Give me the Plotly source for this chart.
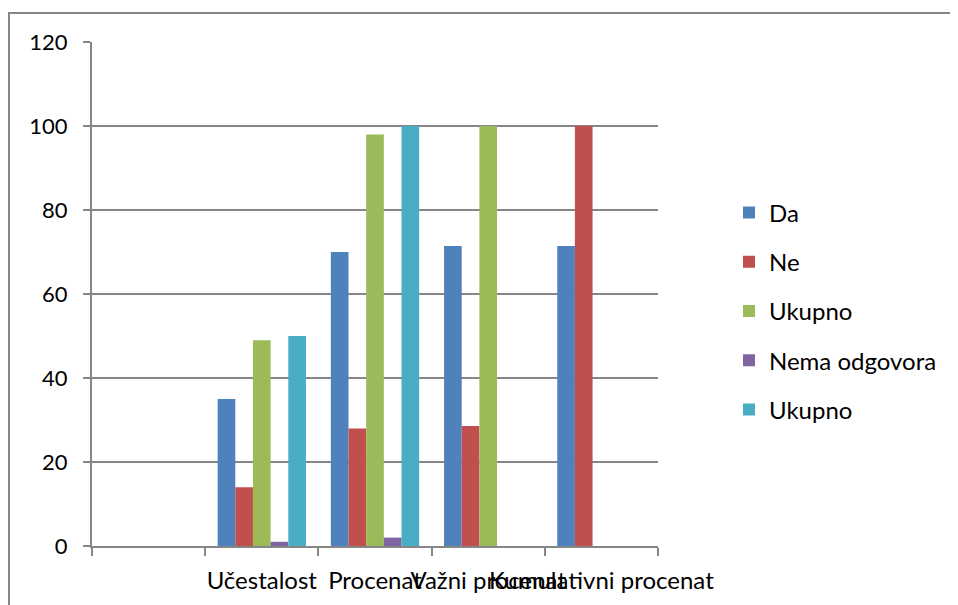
import plotly.graph_objects as go

categories = [" ", "Učestalost", "Procenat", "Važni procenat", "Kumulativni procenat"]
series_names = ["Da", "Ne", "Ukupno", "Nema odgovora", "Ukupno"]
da = [None, 35, 70, 71.4, 71.4]
ne = [None, 14, 28, 28.6, 100]
ukupno1 = [None, 49, 98, 100, None]
nema_odgovora = [None, 1, 2, None, None]
ukupno2 = [None, 50, 100, None, None]
series_values = [da, ne, ukupno1, nema_odgovora, ukupno2]
colors = ["#4F81BD", "#C0504D", "#9BBB59", "#8064A2", "#4BACC6"]
y_ticks = [0, 20, 40, 60, 80, 100, 120]

FONT = "Lato"
W, H = 958, 605
L, R, T, B = 84, 308, 34, 67
PW, PH = W - L - R, H - T - B

fig = go.Figure()
for i, (name, vals, col) in enumerate(zip(series_names, series_values, colors)):
    fig.add_trace(go.Bar(
        x=categories, y=vals, name=name, marker_color=col,
        marker_line_width=0, legendgroup=f"g{i}",
    ))

fig.update_layout(
    width=W, height=H,
    margin=dict(l=L, r=R, t=T, b=B, autoexpand=False),
    paper_bgcolor="white", plot_bgcolor="white",
    barmode="group", bargap=0.22, bargroupgap=0,
    font=dict(family=FONT, size=24, color="black"),
    showlegend=True,
    legend=dict(x=721 / W, xanchor="left", y=1 - 303 / H, yanchor="middle",
                xref="container", yref="container",
                font=dict(size=24, family=FONT),
                tracegroupgap=15, traceorder="grouped",
                bgcolor="rgba(0,0,0,0)"),
    xaxis=dict(type="category", categoryorder="array", categoryarray=categories,
               automargin=False, tickangle=0,
               showline=True, linecolor="#868686", linewidth=2,
               ticks="outside", tickson="boundaries", ticklen=8, tickwidth=2,
               tickcolor="#868686", ticklabelstandoff=12, showgrid=False,
               tickfont=dict(size=24, family=FONT)),
    yaxis=dict(range=[0, 120], tickvals=y_ticks, showline=True, automargin=False,
               linecolor="#868686", linewidth=2, ticks="outside", ticklen=7,
               tickwidth=2, tickcolor="#868686", showgrid=True,
               gridcolor="#868686", gridwidth=2, zeroline=False,
               ticklabelstandoff=11, tickfont=dict(size=22, family=FONT)),
    shapes=[dict(type="rect", xref="paper", yref="paper",
                 x0=(1 - L) / PW, x1=(975 - L) / PW,
                 y0=-(625 - (T + PH)) / PH, y1=(T + PH - 5) / PH,
                 line=dict(color="#868686", width=2), layer="below")],
)

fig.write_html("out.html")
